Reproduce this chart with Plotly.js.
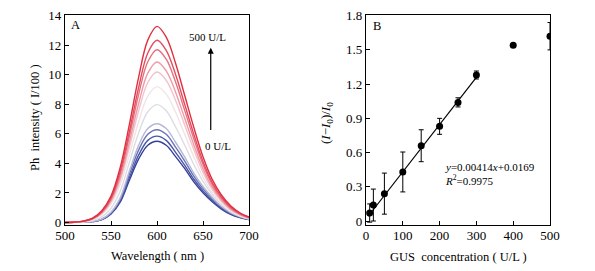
<!DOCTYPE html>
<html>
<head>
<meta charset="utf-8">
<script src="https://cdn.plot.ly/plotly-3.0.1.min.js"></script>
<style>
html,body{margin:0;padding:0;background:#fff;}
#chart{width:595px;height:271px;}
</style>
</head>
<body>
<div id="chart"></div>
<script>
// ---------- Panel A: spectra ----------
const wavelengths = [500,510,520,530,540,550,560,570,580,590,600,610,620,630,640,650,660,670,680,690,700];
const concLabels = ['0 U/L','10 U/L','20 U/L','50 U/L','100 U/L','150 U/L','200 U/L','250 U/L','300 U/L','400 U/L','500 U/L'];
const spec0   = [0,0.01,0.02,0.06,0.19,0.58,1.38,2.86,4.29,5.23,5.50,5.23,4.48,3.66,2.75,2.01,1.40,0.91,0.55,0.33,0.19];
const spec10  = [0,0.01,0.02,0.06,0.20,0.61,1.46,3.04,4.56,5.56,5.85,5.56,4.77,3.89,2.93,2.14,1.49,0.97,0.59,0.35,0.20];
const spec20  = [0,0.01,0.02,0.06,0.22,0.66,1.57,3.27,4.90,5.97,6.28,5.97,5.12,4.18,3.14,2.29,1.60,1.04,0.63,0.38,0.22];
const spec50  = [0,0.01,0.02,0.07,0.23,0.70,1.67,3.48,5.22,6.36,6.69,6.36,5.45,4.45,3.35,2.44,1.71,1.10,0.67,0.40,0.23];
const spec100 = [0,0.01,0.04,0.13,0.38,0.96,2.11,4.07,6.06,7.50,7.98,7.56,6.50,5.25,3.93,2.79,1.90,1.22,0.74,0.44,0.25];
const spec150 = [0,0.02,0.06,0.20,0.55,1.24,2.58,4.60,6.81,8.56,9.20,8.69,7.50,5.98,4.46,3.08,2.02,1.29,0.78,0.46,0.26];
const spec200 = [0,0.02,0.07,0.22,0.61,1.38,2.85,5.10,7.54,9.48,10.19,9.63,8.30,6.62,4.94,3.41,2.24,1.43,0.87,0.51,0.29];
const spec250 = [0,0.02,0.08,0.24,0.65,1.47,3.04,5.44,8.04,10.11,10.87,10.27,8.86,7.07,5.27,3.64,2.39,1.52,0.92,0.54,0.30];
const spec300 = [0,0.02,0.08,0.26,0.70,1.58,3.28,5.85,8.66,10.88,11.70,11.06,9.54,7.61,5.67,3.92,2.57,1.64,0.99,0.59,0.33];
const spec400 = [0,0.02,0.09,0.27,0.74,1.67,3.46,6.17,9.13,11.48,12.34,11.66,10.06,8.02,5.98,4.13,2.71,1.73,1.05,0.62,0.35];
const spec500 = [0,0.03,0.09,0.29,0.80,1.79,3.72,6.64,9.83,12.35,13.28,12.55,10.82,8.63,6.44,4.45,2.92,1.86,1.13,0.66,0.37];
const spectra = [spec0,spec10,spec20,spec50,spec100,spec150,spec200,spec250,spec300,spec400,spec500];
const specColors = ['#35409a','#4854a6','#6a74b6','#b4b8d6','#dcdde4','#f1e4e7','#f2c3ca','#ec9ba7','#e7717f','#e34c5d','#e0303f'];

// ---------- Panel B: calibration ----------
const gusConc  = [10,20,50,100,150,200,250,300,400,500];
const ratio    = [0.07,0.14,0.24,0.43,0.66,0.83,1.04,1.28,1.54,1.62];
const ratioErr = [0.08,0.14,0.18,0.175,0.14,0.07,0.04,0.035,0,0.12];
const fitX = [6,302];
const fitY = [0.0417,1.267];

const font = 'Liberation Serif, Times New Roman, serif';
const traces = [];
spectra.forEach((s,i)=>{
  traces.push({x:wavelengths,y:s,type:'scatter',mode:'lines',name:concLabels[i],
    line:{color:specColors[i],width:1.4,shape:'spline',smoothing:1},xaxis:'x',yaxis:'y',hoverinfo:'skip'});
});
traces.push({x:fitX,y:fitY,type:'scatter',mode:'lines',line:{color:'#000',width:1.2},xaxis:'x2',yaxis:'y2'});
traces.push({x:gusConc,y:ratio,type:'scatter',mode:'markers',
  marker:{color:'#000',size:7},
  error_y:{type:'data',array:ratioErr,visible:true,color:'#000',thickness:1,width:2.5},
  xaxis:'x2',yaxis:'y2'});

const yDom = [1-225/271, 1-15/271];
const axCommon = {showline:true,mirror:true,linecolor:'#000',linewidth:1.2,ticks:'inside',ticklen:4,
  tickcolor:'#000',tickwidth:1,showgrid:false,zeroline:false,tickfont:{family:font,size:13,color:'#000'}};

const layout = {
  width:595,height:271,margin:{l:0,r:0,t:0,b:0},showlegend:false,
  paper_bgcolor:'#fff',plot_bgcolor:'#fff',font:{family:font,color:'#000'},
  xaxis:Object.assign({},axCommon,{domain:[65/595,249/595],range:[500,700],tickvals:[500,550,600,650,700],anchor:'y',ticklabelstandoff:-2}),
  yaxis:Object.assign({},axCommon,{domain:yDom,range:[-0.17,14.05],tickvals:[0,2,4,6,8,10,12,14],anchor:'x'}),
  xaxis2:Object.assign({},axCommon,{domain:[366/595,550/595],range:[0,500],tickvals:[0,100,200,300,400,500],anchor:'y2',ticklabelstandoff:-2}),
  yaxis2:Object.assign({},axCommon,{domain:yDom,range:[-0.035,1.806],tickvals:[0,0.3,0.6,0.9,1.2,1.5,1.8],
    ticktext:['0','0.3','0.6','0.9','1.2','1.5','1.8'],anchor:'x2'}),
  annotations:[
    {xref:'paper',yref:'paper',x:35/595,y:1-118/271,xanchor:'center',yanchor:'middle',text:'Ph  intensity ( I/100 )',textangle:-90,showarrow:false,font:{size:12.5}},
    {xref:'paper',yref:'paper',x:157/595,y:1-256/271,xanchor:'center',yanchor:'middle',text:'Wavelength ( nm )',showarrow:false,font:{size:12.5}},
    {xref:'paper',yref:'paper',x:326/595,y:1-123/271,xanchor:'center',yanchor:'middle',text:'(<i>I</i>−<i>I</i><sub>0</sub>)/<i>I</i><sub>0</sub>',textangle:-90,showarrow:false,font:{size:13}},
    {xref:'paper',yref:'paper',x:458/595,y:1-257/271,xanchor:'center',yanchor:'middle',text:'GUS  concentration ( U/L )',showarrow:false,font:{size:12.5}},
    {xref:'x',yref:'y',x:511.5,y:13.35,text:'A',showarrow:false,font:{size:12.5}},
    {xref:'x',yref:'y',x:655.4,y:12.58,text:'500 U/L',showarrow:false,font:{size:11}},
    {xref:'x',yref:'y',x:665.8,y:5.21,text:'0 U/L',showarrow:false,font:{size:11}},
    {xref:'x',yref:'y',x:658.4,y:11.84,axref:'x',ayref:'y',ax:658.4,ay:6.16,text:'',showarrow:true,
      arrowhead:2,arrowsize:1,arrowwidth:1.2,arrowcolor:'#000'},
    {xref:'x2',yref:'y2',x:29,y:1.713,text:'B',showarrow:false,font:{size:12.5}},
    {xref:'x2',yref:'y2',x:209,y:0.476,xanchor:'left',text:'<i>y</i>=0.00414<i>x</i>+0.0169',showarrow:false,font:{size:11}},
    {xref:'x2',yref:'y2',x:209,y:0.36,xanchor:'left',text:'<i>R</i><sup>2</sup>=0.9975',showarrow:false,font:{size:11}}
  ]
};
Plotly.newPlot('chart',traces,layout,{staticPlot:true,displayModeBar:false});
</script>
</body>
</html>
